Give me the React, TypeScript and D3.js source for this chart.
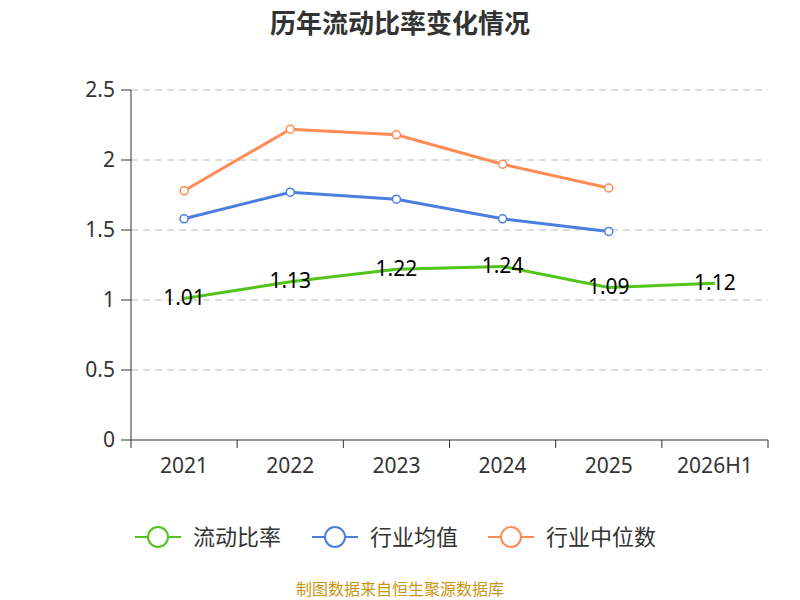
import * as d3 from "d3";

const categories = ["2021", "2022", "2023", "2024", "2025", "2026H1"];
const currentRatio = [1.01, 1.13, 1.22, 1.24, 1.09, 1.12];
const industryAvg = [1.58, 1.77, 1.72, 1.58, 1.49];
const industryMedian = [1.78, 2.22, 2.18, 1.97, 1.8];
const yTicks = [0, 0.5, 1, 1.5, 2, 2.5];

const font = "'Noto Sans', 'Noto Sans CJK SC', sans-serif";

export default function App() {
  const x = d3.scaleBand<string>().domain(categories).range([131, 768]);
  const y = d3.scaleLinear().domain([0, 2.5]).range([440, 90]);
  const cx = (i: number) => (x(categories[i]) ?? 0) + x.bandwidth() / 2;
  const line = d3
    .line<number>()
    .x((_, i) => cx(i))
    .y((d) => y(d));

  const series = [
    { name: "流动比率", data: currentRatio, color: "#52c41a", markers: false },
    { name: "行业均值", data: industryAvg, color: "#4a7fe0", markers: true },
    { name: "行业中位数", data: industryMedian, color: "#ff8b55", markers: true },
  ];
  const legendX = [135, 312, 488];

  return (
    <svg width={800} height={600} style={{ position: "absolute", left: 0, top: 0 }} fontFamily={font}>
      <text x={400} y={33} textAnchor="middle" fontSize={26} fontWeight="bold" fill="#333">
        历年流动比率变化情况
      </text>
      {yTicks.map((t) => (
        <g key={t}>
          {t > 0 && (
            <line x1={131} x2={768} y1={y(t)} y2={y(t)} stroke="#bbb" strokeDasharray="7,5" />
          )}
          <line x1={121} x2={131} y1={y(t)} y2={y(t)} stroke="#333" />
          <text x={115} y={y(t)} dy="0.35em" textAnchor="end" fontSize={21} fill="#333">
            {t}
          </text>
        </g>
      ))}
      <line x1={131} x2={131} y1={90} y2={440} stroke="#333" />
      <line x1={131} x2={768} y1={440} y2={440} stroke="#333" />
      {categories.map((c, i) => (
        <g key={c}>
          <line x1={x(c)} x2={x(c)} y1={440} y2={448} stroke="#333" />
          <text x={cx(i)} y={473} textAnchor="middle" fontSize={21} fill="#333">
            {c}
          </text>
        </g>
      ))}
      <line x1={768} x2={768} y1={440} y2={448} stroke="#333" />
      {series.map((s) => (
        <g key={s.name}>
          <path d={line(s.data) ?? ""} fill="none" stroke={s.color} strokeWidth={3} />
          {s.markers &&
            s.data.map((d, i) => (
              <circle key={i} cx={cx(i)} cy={y(d)} r={4} fill="#fff" stroke={s.color} strokeWidth={1.5} />
            ))}
        </g>
      ))}
      {currentRatio.map((d, i) => (
        <text key={i} x={cx(i)} y={y(d)} dy="0.3em" textAnchor="middle" fontSize={21} fill="#000">
          {d.toFixed(2)}
        </text>
      ))}
      {series.map((s, i) => (
        <g key={s.name} transform={`translate(${legendX[i]},537)`}>
          <line x1={0} x2={46} y1={0} y2={0} stroke={s.color} strokeWidth={2} />
          <circle cx={23} cy={0} r={10} fill="#fff" stroke={s.color} strokeWidth={2} />
          <text x={58} y={0} dy="0.35em" fontSize={22} fill="#333">
            {s.name}
          </text>
        </g>
      ))}
      <text x={400} y={595} textAnchor="middle" fontSize={16} fill="#c8960f">
        制图数据来自恒生聚源数据库
      </text>
    </svg>
  );
}
